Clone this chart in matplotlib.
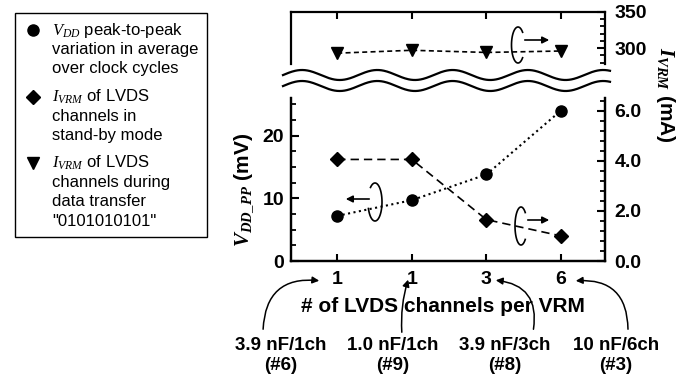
import numpy as np
import matplotlib
matplotlib.use('Agg')
import matplotlib.pyplot as plt
import matplotlib.ticker as mticker
from matplotlib.lines import Line2D
from matplotlib.patches import Rectangle, FancyArrowPatch

plt.rcParams['font.family'] = ['Liberation Sans', 'DejaVu Sans']
plt.rcParams['font.weight'] = 'bold'
plt.rcParams['mathtext.fontset'] = 'custom'
plt.rcParams['mathtext.it'] = 'Liberation Serif:italic:weight=normal'
plt.rcParams['mathtext.rm'] = 'Liberation Serif:weight=normal'
plt.rcParams['mathtext.bf'] = 'Liberation Serif:italic:bold'

# data
cats = [1, 2, 3, 4]
tick_labels = ['1', '1', '3', '6']
vdd_pp = [7.2, 9.7, 13.8, 24.0]          # mV, left axis
i_standby = [4.05, 4.05, 1.65, 1.0]      # mA, right axis
i_transfer = [293, 297, 294, 296]        # mA, top panel
cap_names = ['3.9 nF/1ch', '1.0 nF/1ch', '3.9 nF/3ch', '10 nF/6ch']
cap_ids = ['(#6)', '(#9)', '(#8)', '(#3)']

W, H = 691, 379
def fp(x, y):
    # pixel position (from top-left) -> figure fraction
    return (x / W, 1 - y / H)

fig = plt.figure(figsize=(6.91, 3.79), dpi=100)
ax = fig.add_axes([291 / W, 1 - 261 / H, 314 / W, 163 / H])
axr = ax.twinx()
axt = fig.add_axes([291 / W, 1 - 64 / H, 314 / W, 52 / H])

ax.plot(cats, vdd_pp, color='k', ls=':', lw=1.5, marker='o', ms=8)
axr.plot(cats, i_standby, color='k', ls='--', lw=1.2, marker='D', ms=7.5,
         dashes=(5, 3))
axt.plot(cats, i_transfer, color='k', ls='--', lw=1.2, marker='v', ms=8,
         dashes=(3, 2))

xlim = (0.38, 4.59)
for a in (ax, axr, axt):
    a.set_xlim(*xlim)
    for s in a.spines.values():
        s.set_linewidth(1.6)

# bottom panel
ax.set_ylim(0, 26)
axr.set_ylim(0, 6.5)
ax.spines['top'].set_visible(False)
axr.spines['top'].set_visible(False)
ax.set_xticks(cats, tick_labels)
ax.tick_params(axis='x', direction='in', length=5, width=1.5, pad=7, labelsize=14)
ax.set_yticks([0, 10, 20])
ax.yaxis.set_minor_locator(mticker.MultipleLocator(2.5))
ax.tick_params(axis='y', which='major', direction='in', length=6, width=1.5,
               pad=5, labelsize=14)
ax.tick_params(axis='y', which='minor', direction='in', length=3.5, width=1.3)
axr.set_yticks([0, 2, 4, 6])
axr.yaxis.set_major_formatter(mticker.FormatStrFormatter('%.1f'))
axr.yaxis.set_minor_locator(mticker.MultipleLocator(0.4))
axr.tick_params(axis='y', which='major', direction='in', length=6, width=1.5,
                pad=7, labelsize=14)
axr.tick_params(axis='y', which='minor', direction='in', length=3.5, width=1.3)

# top panel
axt.set_ylim(278, 350)
axt.spines['bottom'].set_visible(False)
axt.xaxis.tick_top()
axt.set_xticks(cats)
axt.tick_params(axis='x', direction='in', length=5, width=1.5, labeltop=False)
axt.yaxis.tick_right()
axt.set_yticks([300, 350])
axt.yaxis.set_minor_locator(mticker.MultipleLocator(10))
axt.tick_params(axis='y', which='major', direction='in', length=6, width=1.5,
                pad=7, labelsize=14)
axt.tick_params(axis='y', which='minor', direction='in', length=3.5, width=1.3)

# axis break waves
xs = np.linspace(283, 610, 400)
for yc in (75, 86):
    ys = yc - 5 * np.cos(2 * np.pi * (xs - 302) / 75.3)
    fig.add_artist(Line2D(xs / W, 1 - ys / H, color='k', lw=1.6))

# axis labels
fig.text(*fp(244, 190), r'$\mathbf{V_{DD\_PP}}$ (mV)', rotation=90,
         ha='center', va='center', fontsize=15)
fig.text(*fp(666, 95), r'$\mathbf{I_{VRM}}$ (mA)', rotation=270,
         ha='center', va='center', fontsize=15)
fig.text(*fp(443, 307), '# of LVDS channels per VRM', ha='center',
         va='center', fontsize=15)

# rotation symbols showing which axis a curve belongs to (open ellipses)
for (cx, cy, w, h, t1, t2) in [(375, 202, 14, 38, 200, 490),
                              (521, 226, 12, 38, 45, 315),
                              (518, 45, 13, 36, 45, 315)]:
    t = np.radians(np.linspace(t1, t2, 120))
    ex = cx + w / 2 * np.cos(t)
    ey = cy - h / 2 * np.sin(t)
    fig.add_artist(Line2D(ex / W, 1 - ey / H, color='k', lw=1.2))
for (x0, y0, x1, y1) in [(372, 199, 343, 199), (525, 220, 552, 220),
                         (522, 40, 552, 40)]:
    fig.add_artist(FancyArrowPatch(fp(x0, y0), fp(x1, y1),
                                   transform=fig.transFigure,
                                   arrowstyle='-|>', mutation_scale=10,
                                   lw=1.2, color='k'))

# capacitor annotations
cap_x = [281, 393, 505, 616]
arrows = [((263, 332), (322, 281), -0.55),
          ((402, 335), (409, 277), -0.1),
          ((533, 332), (493, 280), 0.55),
          ((628, 332), (573, 281), 0.55)]
for x, name, cid, (tail, head, rad) in zip(cap_x, cap_names, cap_ids, arrows):
    fig.text(*fp(x, 346), name, ha='center', va='center', fontsize=13.5)
    fig.text(*fp(x, 366), cid, ha='center', va='center', fontsize=13.5)
    fig.add_artist(FancyArrowPatch(fp(*tail), fp(*head),
                                   transform=fig.transFigure,
                                   connectionstyle='arc3,rad=%s' % rad,
                                   arrowstyle='-|>', mutation_scale=10,
                                   lw=1.1, color='k'))

# legend box
fig.add_artist(Rectangle(fp(15, 237), 192 / W, 224 / H, fill=False,
                         transform=fig.transFigure, color='k', lw=1))
legend_items = [
    ('o', 8, 30, [r'$V_{DD}$ peak-to-peak', 'variation in average',
                  'over clock cycles']),
    ('D', 7, 97, [r'$I_{VRM}$ of LVDS', 'channels in', 'stand-by mode']),
    ('v', 8, 163, [r'$I_{VRM}$ of LVDS', 'channels during', 'data transfer',
                   '"0101010101"']),
]
for mk, ms, y0, lines in legend_items:
    fig.add_artist(Line2D([33 / W], [1 - y0 / H], marker=mk, ms=ms, color='k',
                          ls='none', transform=fig.transFigure))
    for i, line in enumerate(lines):
        fig.text(*fp(52, y0 + i * 19.5), line, ha='left', va='center',
                 fontsize=12, fontweight='normal')

fig.savefig('out.png', dpi=100)
